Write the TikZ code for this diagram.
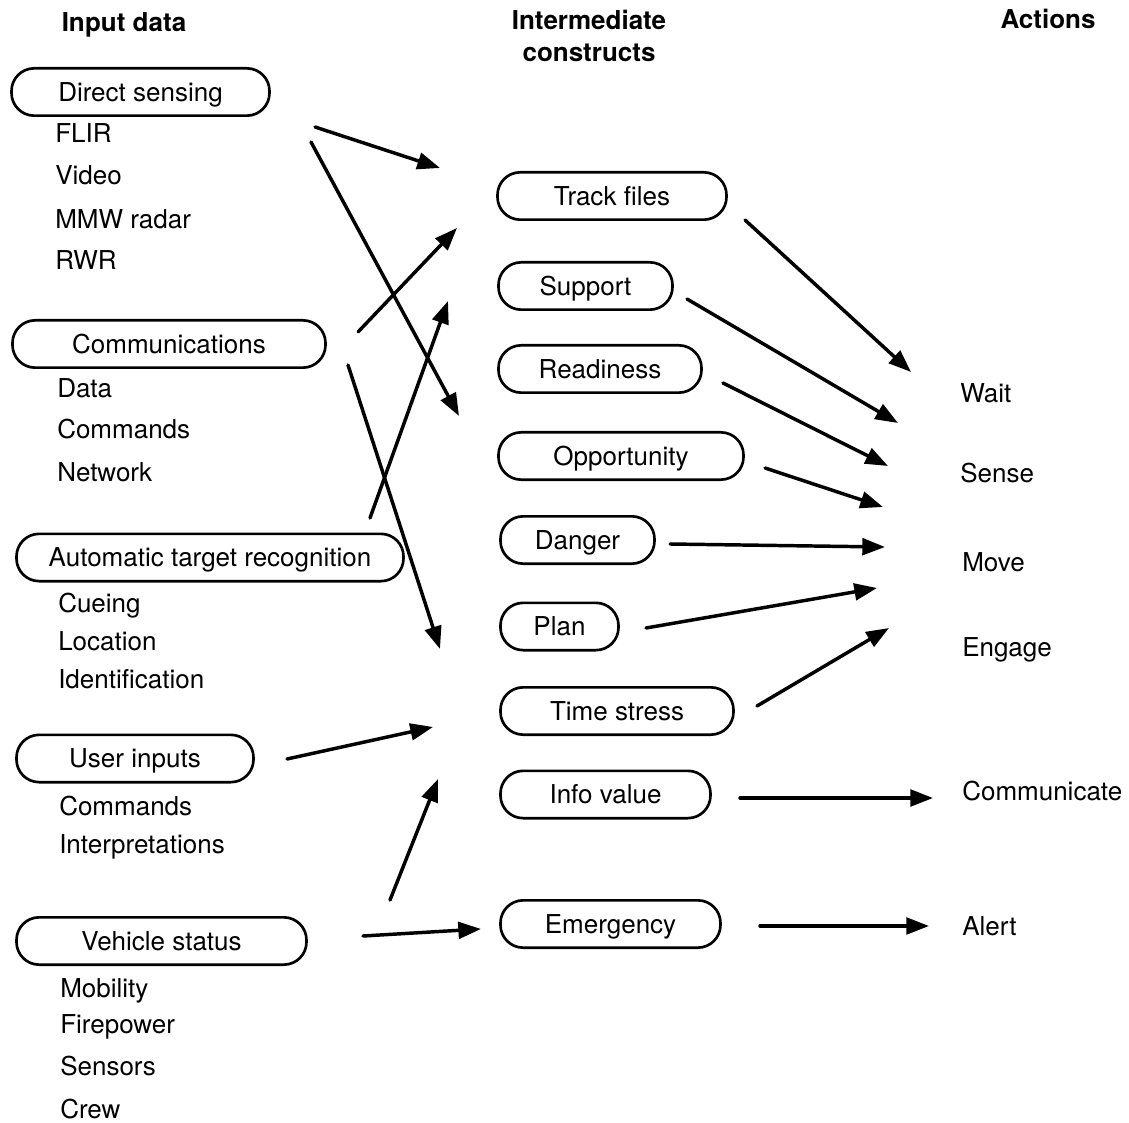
\documentclass[tikz,border=0pt]{standalone}
\usepackage{fontspec}
\setmainfont{TeX Gyre Heros}
\usetikzlibrary{arrows.meta}
\begin{document}
\begin{tikzpicture}[x=0.75pt,y=-0.75pt,
  every node/.style={font=\fontsize{19.5}{24}\selectfont, inner sep=0pt},
  box/.style={draw, line width=2pt, rounded corners=17pt, minimum height=35.5pt, text height=14pt, text depth=0pt},
  lab/.style={anchor=base west},
  hdr/.style={font=\fontsize{19.5}{24}\selectfont\bfseries, align=center},
  arr/.style={line width=2.6pt, line cap=round, -{Triangle[length=17pt,width=12.5pt]}}]
\useasboundingbox (0,0) rectangle (1129,1123);

% headers
\node[hdr, anchor=base] (h1) at (124,32) {Input data};
\node[hdr] (h2) at (589,36) {Intermediate\\constructs};
\node[hdr, anchor=base] (h3) at (1048,29) {Actions};

% input boxes
\node[box, minimum width=193.5pt] (ds) at (140.5,92) {Direct sensing};
\node[box, minimum width=234.75pt] (comm) at (169,344) {Communications};
\node[box, minimum width=290.25pt] (atr) at (210,557.5) {Automatic target recognition};
\node[box, minimum width=177.75pt] (ui) at (135,758.5) {User inputs};
\node[box, minimum width=217.5pt] (vs) at (161.5,941) {Vehicle status};

% input items
\node[lab] (flir) at (55,143) {FLIR};
\node[lab] (video) at (55,185) {Video};
\node[lab] (mmw) at (55,229) {MMW radar};
\node[lab] (rwr) at (55,270) {RWR};
\node[lab] (data) at (57,398) {Data};
\node[lab] (cmd1) at (57,439) {Commands};
\node[lab] (net) at (57,481) {Network};
\node[lab] (cue) at (58,612) {Cueing};
\node[lab] (loc) at (58,650) {Location};
\node[lab] (ident) at (58,688) {Identification};
\node[lab] (cmd2) at (59,815) {Commands};
\node[lab] (interp) at (59,853) {Interpretations};
\node[lab] (mob) at (60,997) {Mobility};
\node[lab] (fire) at (60,1033) {Firepower};
\node[lab] (sens) at (60,1075) {Sensors};
\node[lab] (crew) at (60,1118) {Crew};

% intermediate boxes
\node[box, minimum width=171.75pt] (tf) at (612,196) {Track files};
\node[box, minimum width=130.5pt] (sup) at (585.5,286) {Support};
\node[box, minimum width=152.25pt] (rdy) at (600,369) {Readiness};
\node[box, minimum width=183.75pt] (opp) at (621,456) {Opportunity};
\node[box, minimum width=115.5pt] (dng) at (577.5,540) {Danger};
\node[box, minimum width=88.5pt] (plan) at (559.5,626.5) {Plan};
\node[box, minimum width=174.75pt] (ts) at (617,711) {Time stress};
\node[box, minimum width=157.5pt] (iv) at (605.5,794.5) {Info value};
\node[box, minimum width=165pt] (em) at (610.5,924) {Emergency};

% actions
\node[lab] (wait) at (960,403) {Wait};
\node[lab] (sense) at (960,483) {Sense};
\node[lab] (move) at (962,571) {Move};
\node[lab] (engage) at (962,656) {Engage};
\node[lab] (commun) at (962,800) {Communicate};
\node[lab] (alert) at (962,935) {Alert};

% arrow end points
\coordinate (s1) at (315,127);  \coordinate (t1) at (440,168);
\coordinate (s2) at (311,142);  \coordinate (t2) at (459,416);
\coordinate (s3) at (358,332);  \coordinate (t3) at (457,228);
\coordinate (s4) at (348,365);  \coordinate (t4) at (440,649);
\coordinate (s5) at (370,518);  \coordinate (t5) at (448,301);
\coordinate (s6) at (287,759);  \coordinate (t6) at (433,727);
\coordinate (s7) at (390,900);  \coordinate (t7) at (438,779);
\coordinate (s8) at (363,936);  \coordinate (t8) at (481,929);
\coordinate (s9) at (745,220);  \coordinate (t9) at (911,372);
\coordinate (s10) at (687,299); \coordinate (t10) at (898,423);
\coordinate (s11) at (723,383); \coordinate (t11) at (888,466);
\coordinate (s12) at (765,468); \coordinate (t12) at (883,507);
\coordinate (s13) at (670,544); \coordinate (t13) at (885,547);
\coordinate (s14) at (646,628); \coordinate (t14) at (877,588);
\coordinate (s15) at (757,706); \coordinate (t15) at (889,628);
\coordinate (s16) at (740,798); \coordinate (t16) at (933,798);
\coordinate (s17) at (760,926); \coordinate (t17) at (929,926);

\foreach \i in {1,...,17} { \draw[arr] (s\i) -- (t\i); }
\end{tikzpicture}
\end{document}
